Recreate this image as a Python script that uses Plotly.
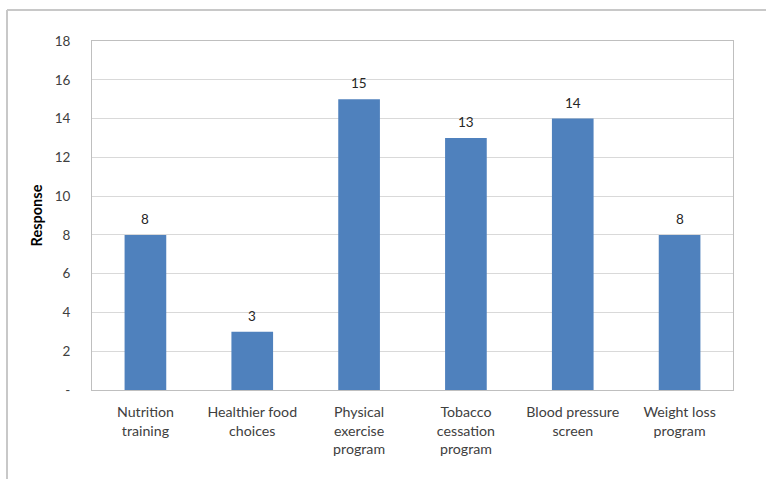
import plotly.graph_objects as go

categories = ["Nutrition<br>training", "Healthier food<br>choices", "Physical<br>exercise<br>program",
              "Tobacco<br>cessation<br>program", "Blood pressure<br>screen", "Weight loss<br>program"]
values = [8, 3, 15, 13, 14, 8]
y_tickvals = [0, 2, 4, 6, 8, 10, 12, 14, 16, 18]
y_ticktext = ["-", "2", "4", "6", "8", "10", "12", "14", "16", "18"]

font_family = "Lato, Carlito, 'Open Sans', sans-serif"
text_color = "#404040"

fig = go.Figure(go.Bar(
    x=categories, y=values,
    marker=dict(color="#4f81bd", line=dict(width=0)),
))

for c, v in zip(categories, values):
    fig.add_annotation(x=c, y=v, text=str(v), showarrow=False, yanchor="bottom", yshift=6,
                       font=dict(family=font_family, size=13.5, color="#262626"))

L, R, T, B = 92, 33, 41, 89
W, H = 766, 479
pw, ph = W - L - R, H - T - B
x_left = (7 - L) / pw
y_top = 1 + (T - 10) / ph

fig.update_layout(
    width=W, height=H,
    margin=dict(l=L, r=R, t=T, b=B),
    paper_bgcolor="white", plot_bgcolor="white",
    bargap=0.61,
    showlegend=False,
    font=dict(family=font_family, size=13, color=text_color),
    xaxis=dict(showline=True, linecolor="#bfbfbf", linewidth=1, mirror=True,
               ticks="", tickfont=dict(size=14.2, color=text_color), ticklabelstandoff=9,
               showgrid=False),
    yaxis=dict(range=[0, 18], tickvals=y_tickvals, ticktext=y_ticktext,
               showline=True, linecolor="#bfbfbf", linewidth=1, mirror=True,
               showgrid=True, gridcolor="#d9d9d9", gridwidth=1, zeroline=False,
               ticks="", ticklabelstandoff=18, tickfont=dict(size=13.5, color=text_color),
               title=dict(text="<b>Response</b>", font=dict(size=14.5, color="#000000"), standoff=8)),
    shapes=[
        dict(type="line", xref="paper", yref="paper", x0=x_left, x1=1.2, y0=y_top, y1=y_top,
             line=dict(color="#c8c8c8", width=2)),
        dict(type="line", xref="paper", yref="paper", x0=x_left, x1=x_left, y0=y_top, y1=-0.3,
             line=dict(color="#c8c8c8", width=2)),
    ],
)

fig.write_html("out.html")
